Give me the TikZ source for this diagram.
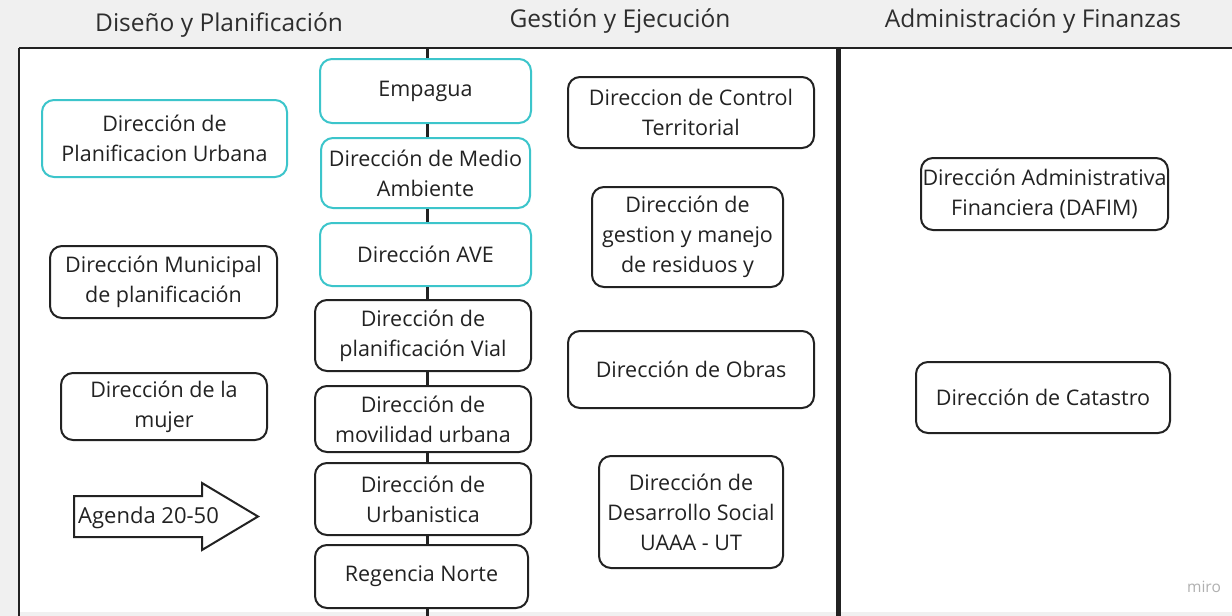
\documentclass[tikz,border=0pt]{standalone}
\usepackage{fontspec}
\setmainfont{Open Sans}
\definecolor{bggray}{HTML}{F0F0F0}
\definecolor{boxline}{HTML}{222222}
\definecolor{cyanb}{HTML}{3CC5CB}
\definecolor{txt}{HTML}{222222}
\definecolor{titletxt}{HTML}{2E2E2E}
\definecolor{mirogray}{HTML}{B0B0B0}
\begin{document}
\begin{tikzpicture}[x=1pt,y=-1pt,
  box/.style={draw=boxline, line width=2pt, rounded corners=12pt, fill=white,
    align=center, inner sep=0pt, text=txt, font=\fontsize{21.5}{30}\selectfont},
  cbox/.style={box, draw=cyanb},
  conn/.style={draw=boxline, line width=3pt},
  frame/.style={draw=boxline, line width=2.5pt},
  lanetitle/.style={anchor=base, text=titletxt, font=\fontsize{24.5}{28}\selectfont}]
\useasboundingbox (0,0) rectangle (1232,616);
\fill[bggray] (0,0) rectangle (1232,616);
\fill[white] (19,48) rectangle (1232,612);
\draw[frame] (19,48) -- (1232,48);
\draw[frame] (19,48) -- (19,616);
\draw[draw=boxline, line width=5pt] (838.5,48) -- (838.5,616);

% lane titles
\node[lanetitle] (t1) at (219,31) {Diseño y Planificación};
\node[lanetitle] (t2) at (620,27) {Gestión y Ejecución};
\node[lanetitle] (t3) at (1033,27) {Administración y Finanzas};

% left column
\node[cbox, minimum width=245, minimum height=77] (pu) at (164.5,138.5) {Dirección de\\Planificacion Urbana};
\node[box, minimum width=227, minimum height=72] (dm) at (163.5,282) {Dirección Municipal\\de planificación};
\node[box, minimum width=206, minimum height=67] (mu) at (164,406.5) {Dirección de la\\mujer};
\draw[draw=boxline, line width=2pt, fill=white] (74,496) -- (202,496) -- (202,483) -- (258,516.5) -- (202,550) -- (202,537) -- (74,537) -- cycle;
\node[anchor=west, inner sep=0pt, text=txt, font=\fontsize{22}{30}\selectfont] (ag) at (78,518) {Agenda 20-50};

% center column
\coordinate (ctop) at (427,48);
\coordinate (cbot) at (427,616);
\node[cbox, minimum width=211, minimum height=64] (emp) at (425.5,91) {Empagua};
\node[cbox, minimum width=209, minimum height=70] (med) at (425.5,173) {Dirección de Medio\\Ambiente};
\node[cbox, minimum width=211, minimum height=63] (ave) at (425.5,254.5) {Dirección AVE};
\node[box, minimum width=216, minimum height=71] (via) at (423,335.5) {Dirección de\\planificación Vial};
\node[box, minimum width=216, minimum height=66] (mov) at (423,419) {Dirección de\\movilidad urbana};
\node[box, minimum width=216, minimum height=72] (urb) at (423,499) {Dirección de\\Urbanistica};
\node[box, minimum width=213, minimum height=63] (reg) at (421.5,576.5) {Regencia Norte};
\draw[conn] (ctop) -- (emp.north -| ctop);
\draw[conn] (emp.south -| ctop) -- (med.north -| ctop);
\draw[conn] (med.south -| ctop) -- (ave.north -| ctop);
\draw[conn] (ave.south -| ctop) -- (via.north -| ctop);
\draw[conn] (via.south -| ctop) -- (mov.north -| ctop);
\draw[conn] (mov.south -| ctop) -- (urb.north -| ctop);
\draw[conn] (urb.south -| ctop) -- (reg.north -| ctop);
\draw[conn] (reg.south -| ctop) -- (cbot);

% gestion column
\node[box, minimum width=246, minimum height=71] (ct) at (691,112.5) {Direccion de Control\\Territorial};
\node[box, minimum width=191, minimum height=100] (gm) at (687.5,237) {Dirección de\\gestion y manejo\\de residuos y};
\node[box, minimum width=246, minimum height=77] (ob) at (691,369.5) {Dirección de Obras};
\node[box, minimum width=184, minimum height=112] (ds) at (691,512) {Dirección de\\Desarrollo Social\\UAAA - UT};

% admin column
\node[box, minimum width=247, minimum height=72] (da) at (1044.5,194) {Dirección Administrativa\\Financiera (DAFIM)};
\node[box, minimum width=254, minimum height=71] (ca) at (1043,397.5) {Dirección de Catastro};

\node[anchor=center, text=mirogray, font=\fontsize{15.5}{18}\selectfont] (miro) at (1204,587) {miro};
\end{tikzpicture}
\end{document}
